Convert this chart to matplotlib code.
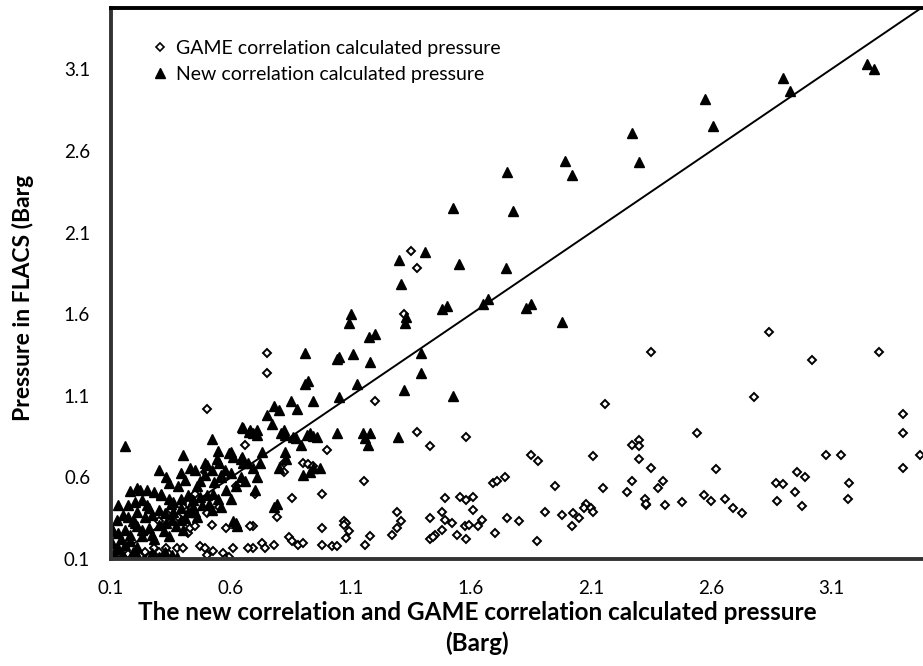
"""
Scatter of FLACS pressure against the GAME and new correlation predictions
"""

import matplotlib
matplotlib.use('Agg')
import matplotlib.pyplot as plt
from matplotlib.lines import Line2D

# GAME correlation calculated pressure vs FLACS pressure (Barg)
game_x = [1.35, 1.375, 1.32, 0.75, 0.75, 0.50, 1.20, 2.35, 2.84, 3.02, 3.30, 2.16, 2.78,
          3.40, 3.40, 3.40, 3.47,
          1.00, 1.375, 1.43, 1.58, 0.82, 0.82, 0.90, 0.92, 0.94, 1.155, 0.98, 0.855, 0.70,
          1.49, 1.29, 1.48, 1.43, 0.79, 0.69, 0.98, 1.07, 1.08, 1.07, 1.09, 1.08, 1.31, 1.29,
          1.27, 1.18, 1.49, 1.48, 1.45, 1.43, 0.84, 0.855, 0.73, 0.74, 0.78, 0.88, 0.90, 0.98,
          1.02, 1.04, 1.16, 0.69,
          1.85, 1.88, 2.11, 2.27, 2.30, 2.30, 2.30, 2.35, 1.69, 1.71, 1.74, 1.95, 2.15, 2.27,
          2.25, 2.325, 2.33, 1.555, 1.58, 1.61, 1.61, 1.52, 1.645, 1.63, 1.575, 1.59, 1.54,
          1.58, 1.44, 1.75, 1.80, 1.70, 1.91, 1.875, 1.98, 2.025, 2.05, 2.02, 2.08, 2.07, 2.10,
          2.11, 2.33,
          2.41, 2.40, 2.38, 2.48, 2.54, 2.57, 2.60, 2.62, 2.66, 2.69, 2.73, 2.87, 2.90, 2.875,
          2.96, 2.99, 2.95, 2.98, 3.08, 3.14, 3.175, 3.17,
          0.66, 0.52, 0.58, 0.68, 0.42, 0.43, 0.33, 0.375, 0.40, 0.47, 0.49, 0.525, 0.50, 0.565,
          0.59, 0.61, 0.575, 0.67, 0.28, 0.30, 0.27, 0.355, 0.34, 0.49, 0.50,
          0.35, 0.42, 0.38, 0.30, 0.45, 0.50, 0.55, 0.11, 0.13, 0.15, 0.17, 0.19, 0.22, 0.24,
          0.26, 0.62, 0.45]
game_y = [1.99, 1.88, 1.60, 1.36, 1.24, 1.02, 1.07, 1.37, 1.49, 1.32, 1.37, 1.05, 1.09,
          0.99, 0.87, 0.66, 0.74,
          0.77, 0.88, 0.79, 0.85, 0.69, 0.63, 0.69, 0.68, 0.67, 0.58, 0.50, 0.475, 0.50,
          0.475, 0.39, 0.39, 0.35, 0.36, 0.30, 0.29, 0.33, 0.32, 0.31, 0.27, 0.23, 0.33, 0.29,
          0.25, 0.24, 0.34, 0.28, 0.25, 0.22, 0.235, 0.21, 0.20, 0.17, 0.185, 0.185, 0.20, 0.185,
          0.18, 0.18, 0.185, 0.17,
          0.74, 0.70, 0.73, 0.80, 0.83, 0.79, 0.71, 0.66, 0.565, 0.58, 0.60, 0.55, 0.535, 0.58,
          0.51, 0.47, 0.43, 0.48, 0.46, 0.48, 0.40, 0.32, 0.34, 0.30, 0.30, 0.31, 0.25,
          0.22, 0.235, 0.35, 0.33, 0.26, 0.39, 0.21, 0.37, 0.38, 0.35, 0.30, 0.44, 0.41, 0.41,
          0.39, 0.44,
          0.43, 0.58, 0.535, 0.45, 0.87, 0.49, 0.455, 0.65, 0.47, 0.41, 0.38, 0.565, 0.56, 0.455,
          0.63, 0.60, 0.51, 0.425, 0.74, 0.74, 0.565, 0.47,
          0.80, 0.31, 0.29, 0.30, 0.26, 0.29, 0.17, 0.17, 0.17, 0.18, 0.17, 0.15, 0.125, 0.135,
          0.11, 0.17, 0.10, 0.17, 0.17, 0.14, 0.125, 0.11, 0.13, 0.63, 0.63,
          0.40, 0.44, 0.36, 0.33, 0.30, 0.38, 0.42, 0.10, 0.12, 0.11, 0.13, 0.11, 0.12, 0.14,
          0.11, 0.55, 0.50]

# New correlation calculated pressure vs FLACS pressure (Barg)
new_x = [3.25, 3.28, 2.90, 2.93, 2.575, 2.61, 2.27, 2.30, 1.99, 2.02, 1.75, 1.775, 1.525,
         1.55, 1.745, 1.67, 1.65, 1.85, 1.83, 1.98, 1.525,
         1.41, 1.30, 1.31, 1.50, 1.48, 1.33, 1.325, 1.10, 1.09, 1.20, 1.175, 0.91, 1.05, 1.04,
         1.11, 1.18, 1.39, 1.39, 0.92, 0.91, 1.125, 1.32, 0.94, 1.05,
         0.78, 0.80, 0.75, 0.85, 0.875,
         0.77, 0.82, 0.81, 0.825, 0.69, 0.71, 0.93, 0.96, 1.04, 1.15, 1.18, 1.16, 1.17, 1.295,
         0.86, 0.89, 0.825, 0.73, 0.72, 0.80, 0.97, 0.93, 0.71, 0.70, 0.79, 0.78,
         0.65, 0.675, 0.71, 0.87, 0.915, 0.94, 0.64, 0.67, 0.69, 0.83, 0.94, 0.90, 0.54, 0.50,
         0.56, 0.62, 0.625,
         0.16, 0.52, 0.40, 0.545, 0.59, 0.60, 0.61, 0.645, 0.65, 0.645, 0.68, 0.30, 0.33, 0.34,
         0.39, 0.41, 0.43, 0.45, 0.49, 0.52, 0.49, 0.55, 0.575, 0.56, 0.64, 0.60,
         0.18, 0.21, 0.25, 0.28, 0.20, 0.23, 0.25, 0.13, 0.31, 0.34, 0.36, 0.39, 0.42, 0.44,
         0.47, 0.50, 0.525, 0.545, 0.60,
         0.125, 0.15, 0.17, 0.19, 0.21, 0.24, 0.27, 0.30, 0.325, 0.36, 0.39, 0.42, 0.44, 0.48,
         0.51,
         0.105, 0.13, 0.16, 0.18, 0.21, 0.23, 0.26, 0.30, 0.33, 0.355, 0.39,
         0.105, 0.13, 0.16, 0.19, 0.21,
         0.10, 0.125, 0.15, 0.18, 0.21, 0.24, 0.27, 0.30, 0.325, 0.355, 0.375,
         0.61, 0.17, 0.22, 0.11, 0.46, 0.47, 0.38, 0.53,
         0.28, 0.34, 0.40, 0.46, 0.52, 0.56, 0.58, 0.62, 0.66,
         0.12, 0.14, 0.18, 0.23, 0.27, 0.32, 0.37, 0.41, 0.45, 0.35, 0.26, 0.20, 0.31]
new_y = [3.13, 3.10, 3.05, 2.97, 2.92, 2.75, 2.71, 2.53, 2.54, 2.45, 2.47, 2.23, 2.25,
         1.91, 1.88, 1.69, 1.66, 1.66, 1.64, 1.55, 1.10,
         1.98, 1.93, 1.785, 1.65, 1.63, 1.58, 1.545, 1.60, 1.545, 1.48, 1.46, 1.36, 1.34, 1.325,
         1.355, 1.31, 1.36, 1.24, 1.19, 1.17, 1.17, 1.135, 1.07, 1.09,
         1.04, 1.01, 0.98, 1.07, 1.02,
         0.93, 0.89, 0.87, 0.86, 0.87, 0.86, 0.87, 0.85, 0.87, 0.87, 0.87, 0.84, 0.80, 0.85,
         0.85, 0.80, 0.755, 0.755, 0.69, 0.66, 0.66, 0.63, 0.60, 0.52, 0.44, 0.42,
         0.90, 0.88, 0.89, 0.84, 0.86, 0.855, 0.71, 0.69, 0.66, 0.71, 0.66, 0.615, 0.71, 0.675,
         0.60, 0.32, 0.30,
         0.79, 0.835, 0.74, 0.76, 0.75, 0.755, 0.725, 0.725, 0.69, 0.91, 0.89, 0.645, 0.60, 0.565,
         0.625, 0.585, 0.66, 0.645, 0.69, 0.645, 0.615, 0.69, 0.645, 0.615, 0.60, 0.625,
         0.515, 0.535, 0.52, 0.51, 0.45, 0.46, 0.43, 0.43, 0.49, 0.47, 0.45, 0.47, 0.49, 0.46,
         0.48, 0.49, 0.50, 0.47, 0.47,
         0.34, 0.37, 0.36, 0.33, 0.39, 0.36, 0.37, 0.40, 0.38, 0.39, 0.41, 0.39, 0.42, 0.43,
         0.44,
         0.28, 0.26, 0.28, 0.245, 0.30, 0.28, 0.29, 0.31, 0.32, 0.34, 0.34,
         0.20, 0.17, 0.185, 0.14, 0.175,
         0.11, 0.10, 0.125, 0.105, 0.125, 0.10, 0.135, 0.11, 0.14, 0.125, 0.11,
         0.33, 0.43, 0.52, 0.27, 0.55, 0.58, 0.55, 0.57,
         0.22, 0.24, 0.28, 0.36, 0.40, 0.42, 0.52, 0.55, 0.58,
         0.16, 0.22, 0.21, 0.24, 0.25, 0.27, 0.30, 0.35, 0.39, 0.44, 0.41, 0.32, 0.50]

ticks = [0.1, 0.6, 1.1, 1.6, 2.1, 2.6, 3.1]
tick_labels = ['0.1', '0.6', '1.1', '1.6', '2.1', '2.6', '3.1']


def make_plot():
    plt.rcParams['font.family'] = ['Lato', 'DejaVu Sans']

    fig = plt.figure(figsize=(9.23, 6.66), dpi=100)
    ax = fig.add_axes([111 / 923, 107 / 666, 840 / 923, 551 / 666])

    ax.plot(game_x, game_y, linestyle='none', marker='D', markersize=4.5,
            markerfacecolor='white', markeredgecolor='black', markeredgewidth=1.4)
    ax.plot(new_x, new_y, linestyle='none', marker='^', markersize=7.8,
            markerfacecolor='black', markeredgecolor='black')
    # line of perfect agreement
    ax.plot([0.1, 3.6], [0.1, 3.6], color='black', linewidth=1.4)

    ax.set_xlim(0.1, 3.6)
    ax.set_ylim(0.1, 3.476)
    ax.set_xticks(ticks)
    ax.set_xticklabels(tick_labels)
    ax.set_yticks(ticks)
    ax.set_yticklabels(tick_labels)
    ax.tick_params(length=0, labelsize=13.5, pad=15)

    for side in ['left', 'bottom', 'top', 'right']:
        ax.spines[side].set_linewidth(2.8)
        ax.spines[side].set_color('black')
    ax.spines['left'].set_color('#333333')
    ax.spines['bottom'].set_color('#333333')

    handles = [
        Line2D([], [], linestyle='none', marker='D', markersize=3.8,
               markerfacecolor='white', markeredgecolor='black', markeredgewidth=1.2),
        Line2D([], [], linestyle='none', marker='^', markersize=6.5,
               markerfacecolor='black', markeredgecolor='black'),
    ]
    ax.legend(handles, ['GAME correlation calculated pressure',
                        'New correlation calculated pressure'],
              loc='upper left', bbox_to_anchor=(150 / 923, 1 - 40 / 666),
              bbox_transform=fig.transFigure, frameon=False, fontsize=14,
              handlelength=1.0, handletextpad=0.35, labelspacing=0.45,
              borderpad=0, borderaxespad=0)

    fig.text(477 / 923, 1 - 628 / 666,
             'The new correlation and GAME correlation calculated pressure\n(Barg)',
             ha='center', va='center', fontsize=17.5, fontweight='bold',
             linespacing=1.4)
    fig.text(23 / 923, 1 - 298 / 666, 'Pressure in FLACS (Barg',
             ha='center', va='center', rotation=90, fontsize=16.5,
             fontweight='bold')

    fig.savefig('out.png', dpi=100)


if __name__ == '__main__':
    make_plot()
